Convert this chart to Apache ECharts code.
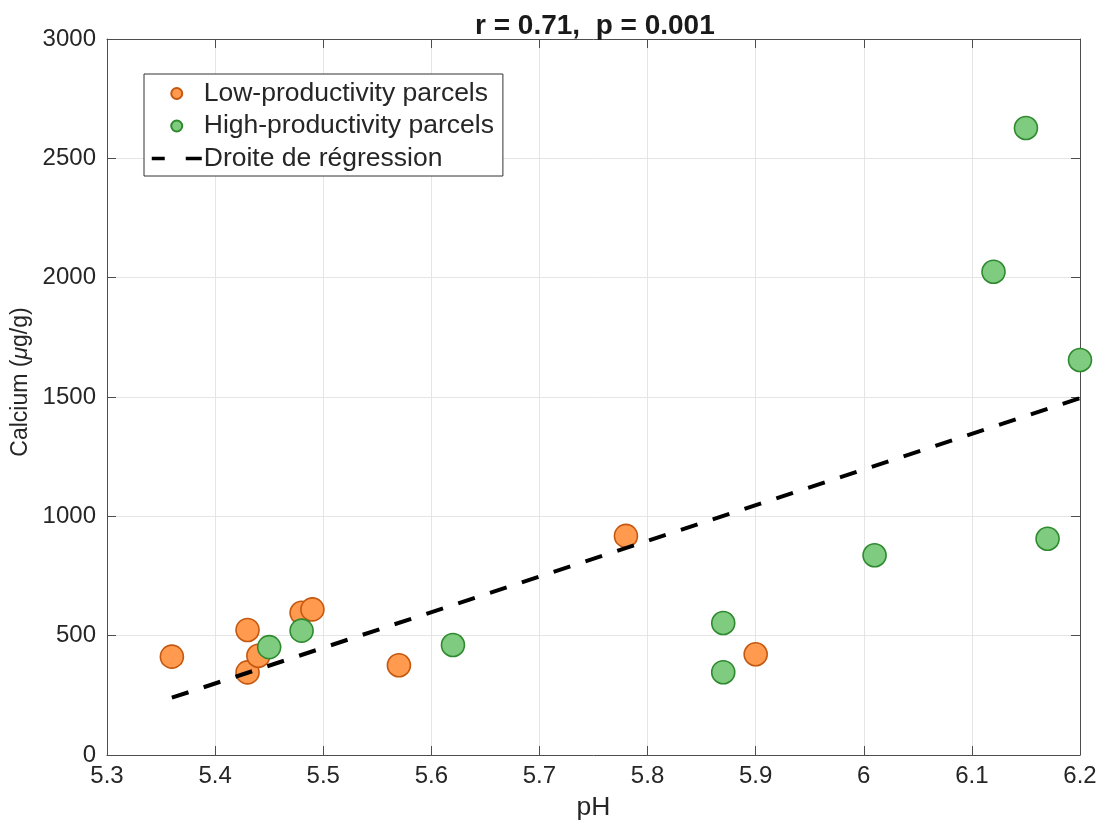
<!DOCTYPE html>
<html>
<head>
<meta charset="utf-8">
<script src="https://cdn.jsdelivr.net/npm/echarts@6/dist/echarts.min.js"></script>
<style>
html,body{margin:0;padding:0;background:#fff;}
#chart{width:1105px;height:827px;}
</style>
</head>
<body>
<div id="chart"></div>
<script>
// ---- data ----
const lowX = [5.36, 5.43, 5.43, 5.44, 5.48, 5.49, 5.57, 5.78, 5.90];
const lowY = [412, 524, 346, 416, 596, 610, 376, 918, 422];
const highX = [5.45, 5.48, 5.62, 5.87, 5.87, 6.01, 6.12, 6.15, 6.17, 6.20];
const highY = [452, 521, 461, 553, 347, 837, 2025, 2627, 906, 1655];
const regX = [5.36, 6.20];
const regY = [240, 1495];
const xTicks = [5.3, 5.4, 5.5, 5.6, 5.7, 5.8, 5.9, 6.0, 6.1, 6.2];
const yTicks = [0, 500, 1000, 1500, 2000, 2500, 3000];
const seriesNames = ['Low-productivity parcels', 'High-productivity parcels', 'Droite de régression'];
const titleText = 'r = 0.71,  p = 0.001';

const zip = (a, b) => a.map((v, i) => [v, b[i]]);
const FONT = 'Liberation Sans, Helvetica, Arial, sans-serif';
const AX = '#4d4d4d';
const TXT = '#262626';

const chart = echarts.init(document.getElementById('chart'), null, {renderer: 'canvas'});
const xFmt = v => { const t = xTicks.find(x => Math.abs(x - v) < 1e-6); return t === undefined ? '' : String(t); };
const yFmt = v => { const t = yTicks.find(y => Math.abs(y - v) < 1e-6); return t === undefined ? '' : String(t); };

const baseX = {
  type: 'value', min: 5.3, max: 6.2, interval: 0.1,
  axisLine: {show: true, onZero: false, lineStyle: {color: AX, width: 1}},
  axisTick: {show: true, inside: true, length: 9, lineStyle: {color: AX, width: 1}},
  splitLine: {show: false}
};
const baseY = {
  type: 'value', min: 0, max: 3000, interval: 500,
  axisLine: {show: true, onZero: false, lineStyle: {color: AX, width: 1}},
  axisTick: {show: true, inside: true, length: 9, lineStyle: {color: AX, width: 1}},
  splitLine: {show: false}
};

chart.setOption({
  animation: false,
  backgroundColor: '#ffffff',
  textStyle: {fontFamily: FONT},
  title: {
    text: titleText,
    left: 470, top: 7,
    textStyle: {fontFamily: FONT, fontSize: 28, fontWeight: 'bold', color: '#1a1a1a'}
  },
  grid: {left: 107, right: 25, top: 39, bottom: 72},
  legend: {
    data: [
      {name: seriesNames[0]},
      {name: seriesNames[1]},
      {name: seriesNames[2], itemStyle: {opacity: 0}, lineStyle: {color: '#000', width: 3.5, type: [13, 21, 16, 10]}}
    ],
    orient: 'vertical',
    left: 144, top: 74,
    padding: [6, 9, 4, 6],
    itemWidth: 50, itemHeight: 11, itemGap: 5.5,
    backgroundColor: '#ffffff',
    borderColor: '#333333', borderWidth: 1, borderRadius: 0,
    textStyle: {fontFamily: FONT, fontSize: 26.5, color: TXT, lineHeight: 26, padding: [0, 0, 0, -3]}
  },
  xAxis: [
    Object.assign({}, baseX, {
      position: 'bottom',
      name: 'pH', nameLocation: 'middle', nameGap: 39,
      nameTextStyle: {fontFamily: FONT, fontSize: 26.5, color: TXT},
      axisLabel: {show: true, fontFamily: FONT, fontSize: 24, color: TXT, margin: 9, formatter: xFmt},
      splitLine: {show: true, lineStyle: {color: '#e5e5e5', width: 1}}
    }),
    Object.assign({}, baseX, {position: 'top', axisLabel: {show: false}})
  ],
  yAxis: [
    Object.assign({}, baseY, {
      position: 'left',
      name: 'Calcium ({i|μ}g/g)', nameLocation: 'middle', nameGap: 64, nameRotate: 90,
      nameTextStyle: {fontFamily: FONT, fontSize: 23, color: TXT, padding: [0, 0, 0, 30],
        rich: {i: {fontFamily: FONT, fontSize: 23, fontStyle: 'italic', color: TXT}}},
      axisLabel: {show: true, fontFamily: FONT, fontSize: 24, color: TXT, margin: 11, formatter: yFmt},
      splitLine: {show: true, lineStyle: {color: '#e5e5e5', width: 1}}
    }),
    Object.assign({}, baseY, {position: 'right', axisLabel: {show: false}})
  ],
  series: [
    {
      name: seriesNames[0], type: 'scatter', xAxisIndex: 0, yAxisIndex: 0,
      data: zip(lowX, lowY), symbol: 'circle', symbolSize: 23,
      itemStyle: {color: '#ff9a4f', borderColor: '#c4580f', borderWidth: 1.6, opacity: 1},
      z: 2
    },
    {
      name: seriesNames[1], type: 'scatter', xAxisIndex: 0, yAxisIndex: 0,
      data: zip(highX, highY), symbol: 'circle', symbolSize: 23,
      itemStyle: {color: '#7fcc80', borderColor: '#2f8a2f', borderWidth: 1.6, opacity: 1},
      z: 3
    },
    {
      name: seriesNames[2], type: 'line', xAxisIndex: 0, yAxisIndex: 0,
      data: zip(regX, regY), symbol: 'none', showSymbol: false,
      lineStyle: {color: '#000000', width: 4, type: [17.5, 16]},
      itemStyle: {color: '#000000'},
      z: 4
    }
  ]
});
</script>
</body>
</html>
